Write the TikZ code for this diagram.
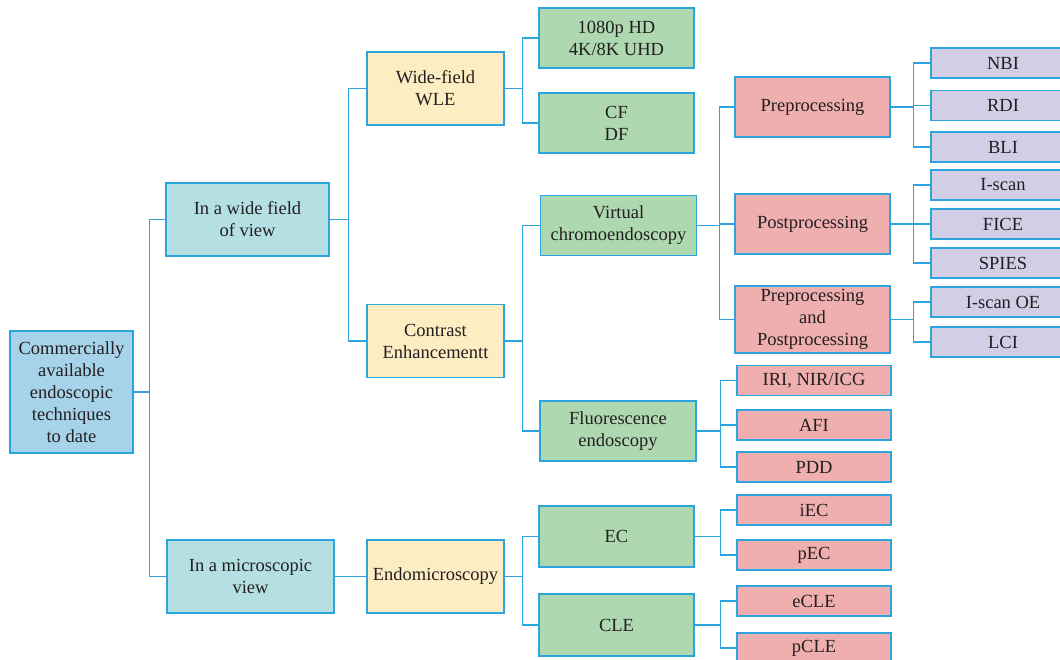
\documentclass[tikz,border=0pt]{standalone}
\usepackage{fontspec}
\setmainfont{Liberation Serif}
\usepackage{tikz}
\usetikzlibrary{positioning}

\definecolor{lineblue}{HTML}{2CA5DF}
\definecolor{txtgray}{HTML}{231F20}
\definecolor{rootfill}{HTML}{A6D3EA}
\definecolor{viewfill}{HTML}{B5E0E3}
\definecolor{modefill}{HTML}{FDEDC3}
\definecolor{techfill}{HTML}{AED8B0}
\definecolor{procfill}{HTML}{EFAFAF}
\definecolor{leaffill}{HTML}{D1CEE6}

\tikzset{
    box/.style={draw=lineblue, line width=1.3pt, align=center, text=txtgray,
        inner sep=1pt, font=\fontsize{18.5}{22}\selectfont},
    rootbox/.style={box, fill=rootfill, minimum width=123pt, minimum height=122pt},
    viewbox/.style={box, fill=viewfill, minimum height=73pt},
    modebox/.style={box, fill=modefill, minimum width=137pt, minimum height=73pt},
    techbox/.style={box, fill=techfill, minimum width=155pt, minimum height=60pt},
    procbox/.style={box, fill=procfill, minimum width=155pt, minimum height=60pt},
    smallbox/.style={box, fill=procfill, minimum width=154pt, minimum height=30pt},
    leafbox/.style={box, fill=leaffill, minimum width=144pt, minimum height=30pt},
    link/.style={draw=lineblue, line width=1.3pt}
}

\begin{document}
\begin{tikzpicture}[x=1pt, y=1pt, on grid]
                \useasboundingbox (0,0) rectangle (1060,660);

                % ROOT
                \node[rootbox] (root) at (71.5,268) {Commercially\\available\\endoscopic\\techniques\\to date};

                % VIEWS
                \node[viewbox, minimum width=163pt] (wide) [above right=172.5pt and 176pt of root] {In a wide field\\of view};
                \node[viewbox, minimum width=167pt] (micro) [below right=184.5pt and 179pt of root] {In a microscopic\\view};

                % MODES
                \node[modebox] (wle) [above right=131pt and 188pt of wide] {Wide-field\\WLE};
                \node[modebox] (contrast) [below right=121.5pt and 188pt of wide] {Contrast\\Enhancementt};
                \node[modebox] (endo) [right=185pt of micro] {Endomicroscopy};

                % TECHNIQUES
                \node[techbox] (hd) [above right=50.5pt and 181pt of wle] {1080p HD\\4K/8K UHD};
                \node[techbox] (cfdf) [below=85pt of hd] {CF\\DF};
                \node[techbox, minimum width=156pt] (virtual) [above right=115.5pt and 183pt of contrast] {Virtual\\chromoendoscopy};
                \node[techbox, minimum width=156pt] (fluor) [below right=90pt and 182.5pt of contrast] {Fluorescence\\endoscopy};
                \node[techbox, minimum height=61pt] (ec) [above right=40pt and 181pt of endo] {EC};
                \node[techbox, minimum height=62pt] (cle) [below=88.5pt of ec] {CLE};

                % PROCESSING
                \node[procbox] (pre) [above right=118.5pt and 194pt of virtual] {Preprocessing};
                \node[procbox] (post) [above right=1.5pt and 194pt of virtual] {Postprocessing};
                \node[procbox, minimum height=67pt] (prepost) [below=95.5pt of post] {Preprocessing\\and\\Postprocessing};

                \node[smallbox] (iri) [above right=50.5pt and 196pt of fluor] {IRI, NIR/ICG};
                \node[smallbox] (afi) [below=44.5pt of iri] {AFI};
                \node[smallbox] (pdd) [below=42pt of afi] {PDD};
                \node[smallbox] (iec) [above right=26.5pt and 197.5pt of ec] {iEC};
                \node[smallbox] (pec) [below=45pt of iec] {pEC};
                \node[smallbox] (ecle) [above right=24pt and 197.5pt of cle] {eCLE};
                \node[smallbox] (pcle) [below=47pt of ecle] {pCLE};

                % LEAVES
                \node[leafbox] (nbi) [above right=44pt and 190.5pt of pre] {NBI};
                \node[leafbox] (rdi) [below=42.5pt of nbi] {RDI};
                \node[leafbox] (bli) [below=41.5pt of rdi] {BLI};
                \node[leafbox] (iscan) [above right=39pt and 190.5pt of post] {I-scan};
                \node[leafbox] (fice) [below=39pt of iscan] {FICE};
                \node[leafbox] (spies) [below=39pt of fice] {SPIES};
                \node[leafbox] (iscanoe) [above right=17.5pt and 190.5pt of prepost] {I-scan OE};
                \node[leafbox] (lci) [below=40pt of iscanoe] {LCI};

                % CONNECTIONS
                \foreach \p/\c/\d in {root/wide/16, root/micro/16,
                        wide/wle/19, wide/contrast/19, micro/endo/16,
                        wle/hd/18, wle/cfdf/18,
                        contrast/virtual/18, contrast/fluor/18,
                        endo/ec/18, endo/cle/18,
                        virtual/pre/22, virtual/post/22, virtual/prepost/22,
                        fluor/iri/24, fluor/afi/24, fluor/pdd/24,
                        ec/iec/26, ec/pec/26, cle/ecle/26, cle/pcle/26,
                        pre/nbi/23, pre/rdi/23, pre/bli/23,
                        post/iscan/23, post/fice/23, post/spies/23,
                        prepost/iscanoe/23, prepost/lci/23}
                    \draw[link] (\p.east) -- ++(\d,0) |- (\c.west);

            \end{tikzpicture}
\end{document}
